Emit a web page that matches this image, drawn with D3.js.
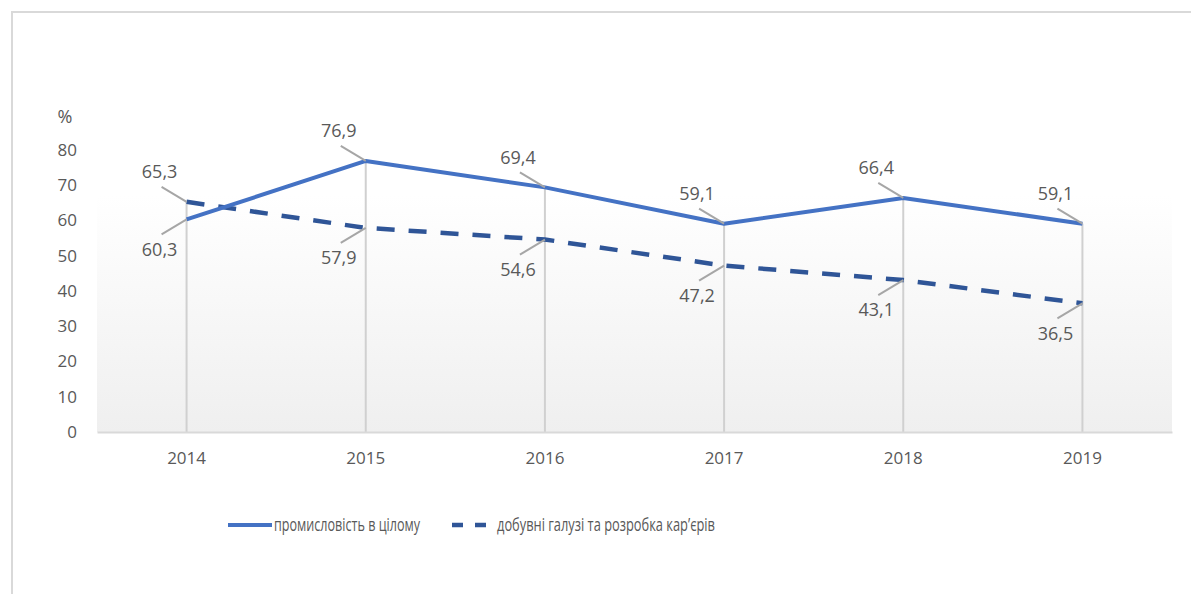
<!DOCTYPE html>
<html>
<head>
<meta charset="utf-8">
<script src="https://cdn.jsdelivr.net/npm/d3@7"></script>
<style>
  body { margin: 0; background: #fff; }
  svg { display: block; font-family: 'Open Sans', sans-serif; }
</style>
</head>
<body>
<div id="container"></div>
<script>
// data
const years = ['2014', '2015', '2016', '2017', '2018', '2019']
const industryTotal = [60.3, 76.9, 69.4, 59.1, 66.4, 59.1]
const mining = [65.3, 57.9, 54.6, 47.2, 43.1, 36.5]
const yTicks = [0, 10, 20, 30, 40, 50, 60, 70, 80]
const seriesNames = ['промисловість в цілому', 'добувні галузі та розробка кар\u2019єрів']
// label side per point: -1 above, 1 below
const industrySide = [1, -1, -1, -1, -1, -1]
const miningSide = [-1, 1, 1, 1, 1, 1]

const width = 1191
const height = 594
const marginLeft = 97
const plotRight = 1172
const marginTop = 150
const axisY = 432

const x = d3.scaleBand()
    .domain(years)
    .range([marginLeft, plotRight])
const y = d3.scaleLinear()
    .domain([0, 80])
    .range([axisY, marginTop])
const cx = d => x(d) + x.bandwidth() / 2

const svg = d3.create('svg')
    .attr('width', width)
    .attr('height', height)

// frame
svg.append('path')
    .attr('d', `M12,${height} L12,12 L${width},12`)
    .attr('fill', 'none')
    .attr('stroke', '#d9d9d9')
    .attr('stroke-width', 2)

// plot area gradient
const defs = svg.append('defs')
const grad = defs.append('linearGradient')
    .attr('id', 'bg').attr('x1', 0).attr('y1', 0).attr('x2', 0).attr('y2', 1)
grad.append('stop').attr('offset', '0%').attr('stop-color', '#ffffff')
grad.append('stop').attr('offset', '100%').attr('stop-color', '#efefef')
svg.append('rect')
    .attr('x', marginLeft)
    .attr('y', y(67))
    .attr('width', plotRight - marginLeft)
    .attr('height', axisY - y(67))
    .attr('fill', 'url(#bg)')

// y axis labels
const yAxis = svg.append('g')
    .attr('transform', `translate(${marginLeft - 20},0)`)
    .call(d3.axisLeft(y).tickValues(yTicks).tickSize(0).tickPadding(0))
yAxis.select('.domain').remove()
yAxis.selectAll('text')
    .attr('fill', '#595959')
    .style('font-size', '17px')
    .style('font-family', 'Open Sans, sans-serif')
svg.append('text')
    .attr('x', 65)
    .attr('y', 117)
    .attr('dy', '0.35em')
    .attr('text-anchor', 'middle')
    .attr('fill', '#595959')
    .style('font-size', '18px')
    .text('%')

// drop lines from the higher value
svg.append('g')
    .selectAll('line')
    .data(years)
    .join('line')
    .attr('x1', d => cx(d))
    .attr('x2', d => cx(d))
    .attr('y1', (d, i) => y(Math.max(industryTotal[i], mining[i])))
    .attr('y2', axisY)
    .attr('stroke', '#d0d0d0')
    .attr('stroke-width', 2)

// x axis
const xAxis = svg.append('g')
    .attr('transform', `translate(0,${axisY})`)
    .call(d3.axisBottom(x).tickSize(0).tickPadding(20))
xAxis.select('.domain')
    .attr('stroke', '#d9d9d9')
    .attr('stroke-width', 2)
xAxis.selectAll('text')
    .attr('fill', '#595959')
    .style('font-size', '17px')
    .style('font-family', 'Open Sans, sans-serif')

// lines
const line = d3.line()
    .x((d, i) => cx(years[i]))
    .y(d => y(d))

svg.append('path')
    .datum(mining)
    .attr('d', line)
    .attr('fill', 'none')
    .attr('stroke', '#2f5597')
    .attr('stroke-width', 4.5)
    .attr('stroke-dasharray', '18 14')

svg.append('path')
    .datum(industryTotal)
    .attr('d', line)
    .attr('fill', 'none')
    .attr('stroke', '#4472c4')
    .attr('stroke-width', 4)
    .attr('stroke-linejoin', 'round')

// data labels with leader lines
function addLabels(values, sides) {
  const g = svg.append('g')
  values.forEach((v, i) => {
    const px = cx(years[i])
    const py = y(v)
    const s = sides[i]
    g.append('line')
      .attr('x1', px - 25)
      .attr('y1', py + s * 15)
      .attr('x2', px)
      .attr('y2', py)
      .attr('stroke', '#a6a6a6')
      .attr('stroke-width', 2)
    g.append('text')
      .attr('x', px - 27)
      .attr('y', py + s * 30)
      .attr('dy', '0.35em')
      .attr('text-anchor', 'middle')
      .attr('fill', '#595959')
      .style('font-size', '18px')
      .text(d3.format('.1f')(v).replace('.', ','))
  })
}
addLabels(industryTotal, industrySide)
addLabels(mining, miningSide)

// legend
const legend = svg.append('g')
legend.append('line')
    .attr('x1', 228).attr('x2', 272)
    .attr('y1', 525).attr('y2', 525)
    .attr('stroke', '#4472c4')
    .attr('stroke-width', 4)
legend.append('text')
    .attr('x', 274).attr('y', 525).attr('dy', '0.35em')
    .attr('fill', '#595959')
    .style('font-size', '18px')
    .attr('textLength', 146)
    .attr('lengthAdjust', 'spacingAndGlyphs')
    .text(seriesNames[0])
legend.append('line')
    .attr('x1', 452).attr('x2', 487)
    .attr('y1', 525).attr('y2', 525)
    .attr('stroke', '#2f5597')
    .attr('stroke-width', 4.5)
    .attr('stroke-dasharray', '11 12')
legend.append('text')
    .attr('x', 497).attr('y', 525).attr('dy', '0.35em')
    .attr('fill', '#595959')
    .style('font-size', '18px')
    .attr('textLength', 218)
    .attr('lengthAdjust', 'spacingAndGlyphs')
    .text(seriesNames[1])

d3.select('#container').append(() => svg.node())
</script>
</body>
</html>
